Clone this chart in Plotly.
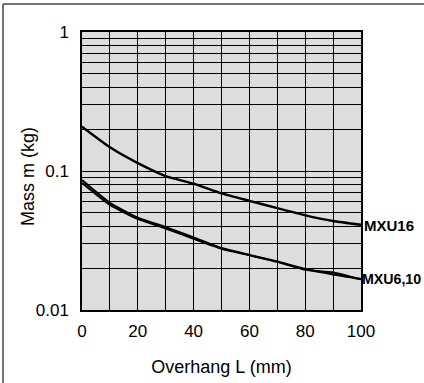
import math
import plotly.graph_objects as go

overhang_mm = [0, 10, 20, 30, 40, 50, 60, 70, 80, 90, 100]
mass_mxu16 = [0.208, 0.148, 0.114, 0.092, 0.081, 0.069, 0.061, 0.054, 0.048, 0.0437, 0.041]
mass_mxu6 = [0.086, 0.059, 0.0462, 0.0395, 0.0333, 0.0279, 0.0249, 0.0223, 0.0197, 0.0180, 0.0167]
mass_mxu10 = [0.082, 0.057, 0.0452, 0.0386, 0.0325, 0.0276, 0.0248, 0.0222, 0.0195, 0.0186, 0.0166]
series_labels = ["MXU16", "MXU6,10"]

y_tickvals = [m * d for d in (0.01, 0.1) for m in range(1, 10)] + [1]
y_ticktext = ["0.01", "", "", "", "", "", "", "", "",
              "0.1", "", "", "", "", "", "", "", "", "1"]
x_tickvals = [0, 20, 40, 60, 80, 100]

font_main = "Liberation Sans, Arial, Helvetica, sans-serif"

fig = go.Figure()
for ys, w in ((mass_mxu16, 2.4), (mass_mxu6, 2.0), (mass_mxu10, 2.0)):
    fig.add_trace(go.Scatter(
        x=overhang_mm, y=ys, mode="lines",
        line=dict(color="black", width=w, shape="spline", smoothing=0.5),
        showlegend=False, hoverinfo="skip"))

fig.add_annotation(x=100, y=math.log10(mass_mxu16[-1]), yref="y", xref="x",
                   text="<b>" + series_labels[0] + "</b>", showarrow=False,
                   xanchor="left", xshift=1, yshift=-1,
                   font=dict(family=font_main, size=15, color="black"))
fig.add_annotation(x=100, y=math.log10(min(mass_mxu6[-1], mass_mxu10[-1])), yref="y", xref="x",
                   text="<b>" + series_labels[1] + "</b>", showarrow=False,
                   xanchor="left", xshift=-1, yshift=0,
                   font=dict(family=font_main, size=14.2, color="black"))

L, R, T, B = 82, 63, 32, 73
W, H = 424, 383
pw, ph = W - L - R, H - T - B

fig.add_annotation(xref="paper", yref="paper", x=(28 - L) / pw, y=(H - B - 177) / ph,
                   text="Mass m (kg)", textangle=-90, showarrow=False,
                   xanchor="center", yanchor="middle",
                   font=dict(family=font_main, size=18, color="black"))

# outer frame (left and top edges visible)
fx0 = (3 - L) / pw
fy_top = (H - B - 4) / ph
fig.add_shape(type="line", xref="paper", yref="paper", x0=fx0, x1=1.3,
              y0=fy_top, y1=fy_top, line=dict(color="#444", width=1.5))
fig.add_shape(type="line", xref="paper", yref="paper", x0=fx0, x1=fx0,
              y0=fy_top, y1=-0.4, line=dict(color="#444", width=1.5))

fig.update_layout(
    width=W, height=H,
    margin=dict(l=L, r=R, t=T, b=B, autoexpand=False),
    paper_bgcolor="white", plot_bgcolor="#dddddd",
    font=dict(family=font_main, size=17, color="black"),
)
fig.update_xaxes(
    range=[0, 100], tickvals=x_tickvals, ticks="outside", ticklen=5,
    tickcolor="rgba(0,0,0,0)", showgrid=True, gridcolor="black", gridwidth=1.2,
    minor=dict(dtick=10, showgrid=True, gridcolor="black", gridwidth=1.2),
    showline=True, linecolor="black", linewidth=1.5, mirror=True,
    zeroline=False, tickfont=dict(size=17),
    title=dict(text="Overhang L (mm)", font=dict(size=18), standoff=20),
)
fig.update_yaxes(
    type="log", range=[-2, 0], tickvals=y_tickvals, ticktext=y_ticktext,
    ticks="outside", ticklen=8, tickcolor="rgba(0,0,0,0)",
    showgrid=True, gridcolor="black", gridwidth=1.2,
    showline=True, linecolor="black", linewidth=1.5, mirror=True,
    zeroline=False, tickfont=dict(size=17),
)

fig.write_html(
    "out.html",
    config={"displayModeBar": False},
    post_script="document.body.style.margin='0';document.body.style.overflow='hidden';",
)
